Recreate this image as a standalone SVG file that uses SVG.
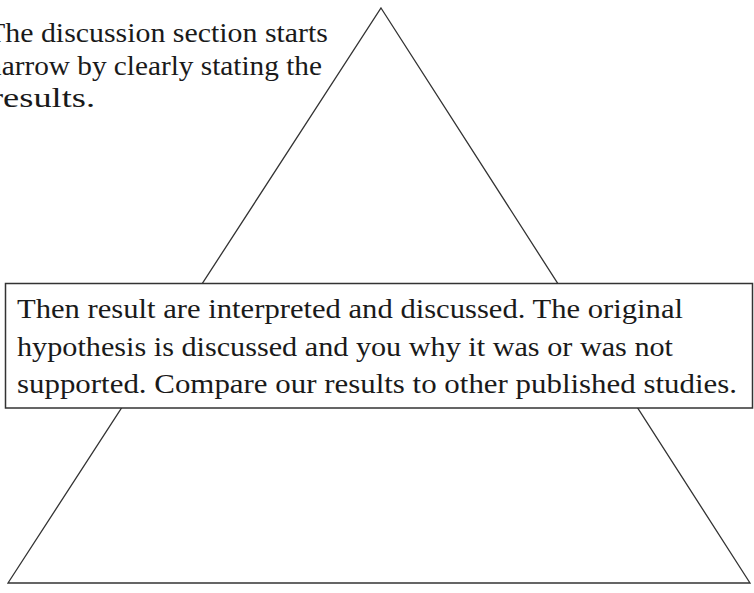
<svg xmlns="http://www.w3.org/2000/svg" width="754" height="593" viewBox="0 0 754 593">
<style>
.t{font-family:"Liberation Serif","Times New Roman",serif;font-size:28px;fill:#1a1a1a}
.ln{fill:none;stroke:#333;stroke-width:1.3}
</style>
<rect x="0" y="0" width="754" height="593" fill="#fff"/>
<g id="pyramid">
<polygon class="ln" points="381,8 750,583 8,583"/>
</g>
<g id="top-note">
<text class="t" x="-13" y="42" textLength="341" lengthAdjust="spacingAndGlyphs">The discussion section starts</text>
<text class="t" x="-13" y="75" textLength="335" lengthAdjust="spacingAndGlyphs">narrow by clearly stating the</text>
<text class="t" x="-9" y="107" textLength="104" lengthAdjust="spacingAndGlyphs">results.</text>
</g>
<g id="middle-box">
<rect x="5.5" y="283.5" width="747" height="124.5" fill="#fff" stroke="#333" stroke-width="1.5"/>
<text class="t" x="17" y="318" textLength="666" lengthAdjust="spacingAndGlyphs">Then result are interpreted and discussed. The original</text>
<text class="t" x="17" y="356" textLength="656" lengthAdjust="spacingAndGlyphs">hypothesis is discussed and you why it was or was not</text>
<text class="t" x="17" y="393" textLength="720" lengthAdjust="spacingAndGlyphs">supported. Compare our results to other published studies.</text>
</g>
<g id="connectors"></g>
</svg>
